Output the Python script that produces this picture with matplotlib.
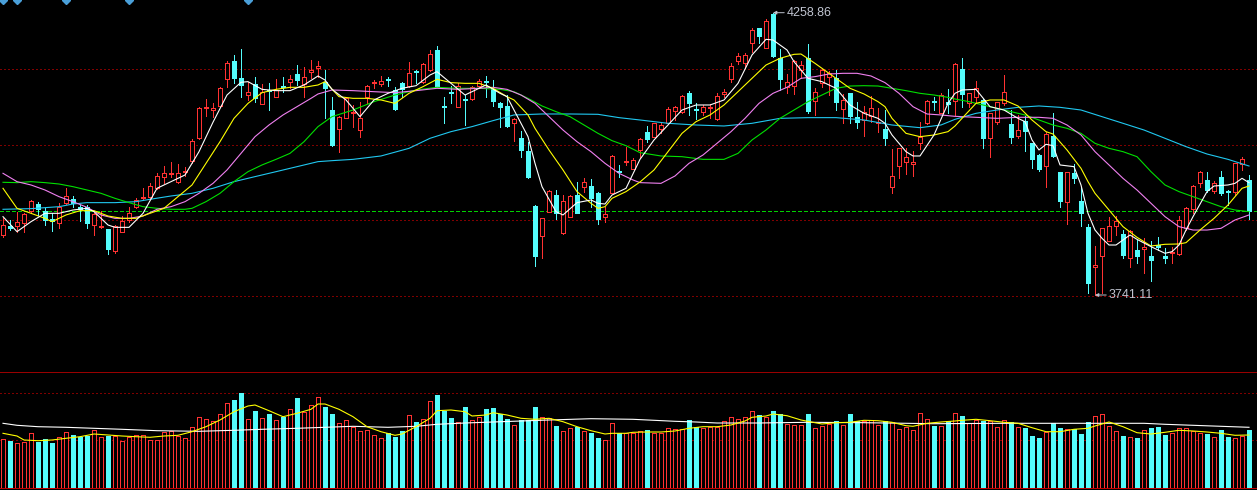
import numpy as np
import matplotlib
matplotlib.use("Agg")
import matplotlib.pyplot as plt

# ---- daily candles (index points) ----
opens = [
    3851.2, 3867.7, 3867.7, 3872.6, 3895.8, 3908.0, 3894.6, 3881.1, 3873.8, 3910.5,
    3916.6, 3902.5, 3903.1, 3869.5, 3865.9, 3861.6, 3822.5, 3857.3, 3878.7, 3901.9,
    3919.0, 3921.5, 3938.0, 3958.2, 3963.1, 3949.0, 3967.3, 3986.9, 4028.5, 4083.5,
    4080.4, 4087.8, 4136.7, 4170.3, 4138.5, 4108.5, 4128.1, 4092.0, 4117.1, 4104.9,
    4124.4, 4132.4, 4146.4, 4128.1, 4150.7, 4158.1, 4132.4, 4080.4, 4045.0, 4066.4,
    4074.3, 4043.7, 4104.9, 4129.9, 4127.5, 4137.3, 4117.1, 4129.3, 4124.4, 4151.9,
    4131.2, 4153.8, 4190.5, 4087.8, 4112.8, 4086.5, 4101.2, 4100.0, 4125.0, 4133.6,
    4118.3, 4092.6, 4087.8, 4056.0, 4028.5, 4005.2, 3904.4, 3850.0, 3894.0, 3924.5,
    3854.2, 3884.8, 3924.5, 3939.8, 3941.0, 3927.6, 3884.8, 3928.8, 3968.6, 3985.7,
    3972.2, 4007.1, 4039.5, 4031.5, 4045.0, 4056.0, 4078.6, 4076.1, 4111.0, 4082.9,
    4076.1, 4084.1, 4063.3, 4109.2, 4137.3, 4170.3, 4166.0, 4203.9, 4230.2, 4194.7,
    4256.5, 4175.2, 4122.0, 4124.4, 4153.8, 4175.2, 4097.5, 4129.3, 4140.3, 4138.5,
    4081.6, 4111.0, 4068.2, 4062.1, 4070.0, 4056.0, 4045.0, 3939.8, 3978.3, 3985.7,
    3980.8, 4019.3, 4056.0, 4096.3, 4075.5, 4094.5, 4096.9, 4155.0, 4092.6, 4104.9,
    4098.8, 4028.5, 4059.0, 4092.6, 4054.1, 4032.7, 4060.3, 4019.3, 3997.9, 3978.3,
    4032.7, 3966.1, 3911.1, 3964.3, 3913.5, 3865.2, 3791.9, 3813.3, 3840.8, 3868.3,
    3853.0, 3809.6, 3823.7, 3824.9, 3812.7, 3832.2, 3812.7, 3817.6, 3815.7, 3863.4,
    3898.3, 3945.9, 3952.1, 3932.5, 3956.9, 3931.9, 3930.7, 3980.8, 3952.1,
]
highs = [
    3881.7, 3878.7, 3894.0, 3890.9, 3915.4, 3911.1, 3900.7, 3890.9, 3909.3, 3936.8,
    3922.7, 3906.2, 3906.2, 3890.9, 3895.2, 3862.8, 3868.9, 3886.6, 3901.9, 3919.6,
    3936.8, 3947.2, 3965.5, 3978.3, 3984.4, 3981.4, 3976.5, 4026.6, 4085.3, 4100.6,
    4092.6, 4122.0, 4170.3, 4181.3, 4191.7, 4132.4, 4140.3, 4127.5, 4129.3, 4136.7,
    4141.6, 4144.0, 4162.3, 4158.7, 4172.1, 4170.9, 4153.8, 4104.9, 4069.4, 4104.9,
    4089.6, 4095.7, 4126.3, 4135.4, 4142.8, 4141.6, 4123.2, 4132.4, 4169.1, 4153.8,
    4166.0, 4190.5, 4198.4, 4104.9, 4124.4, 4129.3, 4107.9, 4124.4, 4136.7, 4142.8,
    4135.4, 4095.7, 4107.9, 4065.1, 4042.5, 4022.3, 3906.2, 3883.0, 3933.7, 3933.7,
    3924.5, 3924.5, 3949.0, 3955.1, 3953.9, 3929.4, 3903.1, 3997.3, 3979.6, 4012.0,
    3991.8, 4028.5, 4051.1, 4057.2, 4059.0, 4085.3, 4087.8, 4107.9, 4115.9, 4092.6,
    4089.6, 4091.4, 4112.2, 4118.3, 4166.0, 4184.3, 4185.6, 4230.2, 4231.4, 4246.7,
    4258.86, 4192.3, 4146.4, 4172.1, 4170.3, 4201.5, 4120.2, 4155.6, 4151.9, 4153.8,
    4109.2, 4112.2, 4095.7, 4087.8, 4106.7, 4083.5, 4080.4, 4008.9, 4011.3, 4010.1,
    4005.2, 4059.0, 4098.8, 4104.9, 4112.2, 4118.3, 4166.0, 4175.2, 4112.2, 4133.6,
    4100.0, 4075.5, 4095.7, 4144.6, 4080.4, 4071.3, 4069.4, 4020.5, 3999.1, 4040.7,
    4075.5, 3967.3, 3967.3, 3981.4, 3939.8, 3870.7, 3831.0, 3864.6, 3883.6, 3886.0,
    3860.3, 3860.3, 3842.0, 3845.1, 3840.8, 3848.1, 3826.7, 3829.8, 3886.0, 3903.1,
    3942.3, 3968.6, 3967.3, 3950.2, 3968.6, 3933.7, 3983.8, 3994.8, 3961.2,
]
lows = [
    3846.9, 3860.3, 3857.3, 3857.3, 3890.9, 3887.9, 3869.5, 3859.1, 3863.4, 3908.0,
    3903.1, 3877.5, 3863.4, 3851.2, 3864.6, 3816.3, 3818.8, 3856.1, 3875.6, 3900.1,
    3915.4, 3918.4, 3934.9, 3945.9, 3958.2, 3947.2, 3959.4, 3982.6, 4026.6, 4070.0,
    4067.0, 4085.3, 4122.0, 4129.3, 4104.9, 4098.8, 4094.5, 4091.4, 4080.4, 4103.6,
    4114.0, 4120.2, 4126.3, 4103.6, 4138.5, 4141.6, 4065.1, 4015.0, 4004.0, 4065.1,
    4049.9, 4031.5, 4092.6, 4120.2, 4124.4, 4125.0, 4080.4, 4104.9, 4123.2, 4129.3,
    4129.3, 4151.9, 4122.0, 4057.2, 4092.6, 4085.3, 4052.9, 4098.8, 4122.0, 4104.9,
    4087.8, 4049.9, 4049.9, 4024.2, 3994.8, 3956.3, 3794.9, 3808.4, 3892.8, 3880.5,
    3853.0, 3883.6, 3890.9, 3930.7, 3903.1, 3871.4, 3875.6, 3927.6, 3958.2, 3979.6,
    3971.6, 3994.8, 4022.3, 4030.3, 4038.9, 4054.8, 4062.1, 4074.3, 4071.3, 4063.3,
    4071.3, 4065.1, 4062.1, 4104.9, 4132.4, 4164.8, 4156.8, 4187.4, 4202.7, 4193.5,
    4178.2, 4117.1, 4111.0, 4109.8, 4138.5, 4075.5, 4071.3, 4122.0, 4107.9, 4080.4,
    4057.2, 4057.2, 4046.8, 4032.7, 4059.0, 4040.7, 4016.2, 3928.8, 3956.3, 3963.1,
    3959.4, 4008.9, 4054.8, 4080.4, 4074.3, 4074.3, 4071.3, 4086.5, 4086.5, 4095.7,
    4010.1, 3993.6, 4054.8, 4089.6, 4020.5, 4028.5, 4005.2, 3973.4, 3969.2, 3939.8,
    3994.8, 3901.9, 3870.7, 3945.9, 3867.7, 3745.4, 3741.11, 3744.2, 3839.6, 3851.2,
    3809.6, 3793.1, 3799.2, 3782.1, 3766.8, 3823.7, 3799.2, 3800.5, 3814.5, 3860.3,
    3890.9, 3939.8, 3930.7, 3927.6, 3924.5, 3906.2, 3924.5, 3970.4, 3880.5,
]
closes = [
    3869.5, 3864.0, 3875.6, 3889.1, 3913.5, 3899.5, 3878.7, 3876.9, 3901.9, 3923.3,
    3909.3, 3898.9, 3873.8, 3889.1, 3867.7, 3826.1, 3867.7, 3876.3, 3890.9, 3915.4,
    3921.5, 3941.0, 3959.4, 3964.3, 3964.9, 3964.3, 3969.2, 4023.0, 4083.5, 4085.3,
    4083.5, 4120.2, 4166.6, 4139.1, 4126.3, 4112.8, 4103.0, 4114.0, 4115.3, 4117.1,
    4122.0, 4136.7, 4135.4, 4140.3, 4153.2, 4161.1, 4120.2, 4016.2, 4068.2, 4101.8,
    4077.4, 4066.4, 4124.4, 4131.8, 4133.6, 4136.1, 4082.3, 4118.3, 4147.7, 4150.1,
    4164.2, 4183.1, 4124.4, 4085.3, 4111.0, 4124.4, 4098.8, 4123.2, 4133.6, 4131.2,
    4097.5, 4086.5, 4051.1, 4063.9, 4007.1, 3958.2, 3812.7, 3881.7, 3931.9, 3890.9,
    3913.5, 3922.7, 3892.1, 3947.8, 3918.4, 3880.5, 3889.1, 3996.1, 3966.1, 3987.5,
    3988.7, 4026.6, 4027.2, 4056.0, 4052.9, 4081.6, 4085.3, 4106.7, 4093.9, 4080.4,
    4086.5, 4085.9, 4106.7, 4112.8, 4161.1, 4180.1, 4181.3, 4227.1, 4216.7, 4244.3,
    4180.1, 4137.3, 4131.2, 4170.3, 4163.0, 4079.2, 4112.8, 4153.8, 4147.7, 4095.7,
    4098.8, 4069.4, 4059.0, 4076.1, 4083.5, 4059.0, 4029.7, 3959.4, 4010.1, 3993.6,
    3985.7, 4031.5, 4096.9, 4094.5, 4107.9, 4091.4, 4164.2, 4109.2, 4111.0, 4120.2,
    4028.5, 4074.3, 4094.5, 4112.8, 4030.3, 4043.7, 4041.9, 3990.6, 3972.2, 4036.4,
    3996.7, 3914.2, 3966.1, 3956.3, 3892.1, 3762.5, 3796.2, 3863.4, 3867.7, 3877.5,
    3814.5, 3858.5, 3812.7, 3829.8, 3805.3, 3829.8, 3809.6, 3820.6, 3878.7, 3900.1,
    3941.0, 3966.1, 3933.7, 3945.9, 3927.6, 3929.4, 3982.6, 3990.0, 3895.8,
]
volumes = [
    48.7, 47.0, 45.0, 46.0, 54.7, 46.0, 48.7, 45.0, 50.7, 55.7,
    53.0, 50.7, 52.3, 57.7, 50.7, 52.3, 52.0, 47.0, 51.3, 52.7,
    52.7, 48.0, 48.0, 55.7, 57.0, 52.0, 50.0, 60.7, 70.7, 68.7,
    66.7, 74.0, 84.7, 87.7, 95.0, 68.7, 77.0, 69.7, 74.0, 68.0,
    71.3, 78.7, 90.0, 76.3, 82.7, 90.7, 81.0, 74.0, 64.7, 67.7,
    60.7, 56.7, 57.7, 52.7, 49.7, 54.7, 51.0, 57.0, 72.7, 66.0,
    68.7, 86.7, 93.0, 77.3, 70.0, 65.7, 81.0, 67.7, 71.3, 78.7,
    80.0, 74.3, 69.0, 62.7, 67.7, 67.7, 81.0, 70.7, 70.3, 62.0,
    57.0, 59.7, 61.3, 57.0, 54.7, 50.0, 48.0, 64.7, 54.7, 54.7,
    55.3, 57.3, 57.7, 55.3, 55.3, 59.7, 58.7, 58.7, 68.0, 60.7,
    59.7, 61.0, 61.3, 66.7, 70.7, 68.7, 70.7, 76.7, 73.0, 71.3,
    77.0, 74.0, 63.7, 62.7, 62.7, 74.0, 59.7, 62.0, 64.3, 67.0,
    62.7, 74.0, 67.3, 67.0, 67.7, 62.7, 66.7, 66.3, 58.7, 60.7,
    58.0, 74.7, 68.7, 62.0, 61.7, 67.0, 74.7, 72.0, 64.7, 68.0,
    67.0, 67.0, 61.0, 67.7, 65.7, 60.7, 60.0, 52.0, 50.0, 55.7,
    64.7, 60.0, 58.7, 58.7, 54.0, 66.0, 72.0, 74.0, 62.0, 57.0,
    52.0, 51.0, 50.0, 58.0, 60.0, 61.0, 53.0, 55.0, 60.0, 60.0,
    57.0, 55.0, 54.0, 51.0, 58.0, 51.0, 50.0, 52.0, 58.0,
]

# ---- moving average lines, read at sample bars ----
ma5_idx = [0, 2, 4, 6, 8, 10, 12, 13, 15, 16, 18, 20, 22, 24, 26, 28, 30, 32, 34, 35,
           37, 39, 41, 43, 45, 46, 47, 49, 51, 53, 55, 57, 59, 61, 62, 64, 66, 67, 69, 71,
           72, 74, 75, 76, 77, 79, 80, 82, 84, 85, 86, 87, 89, 91, 93, 95, 97, 99, 101, 103,
           105, 107, 109, 110, 112, 113, 115, 117, 119, 121, 123, 125, 126, 127, 129, 130, 131, 133, 135, 136,
           137, 139, 141, 143, 145, 146, 147, 148, 149, 150, 151, 153, 154, 155, 156, 157, 158, 159, 160, 161,
           162, 164, 166, 167, 168, 169, 170, 172, 173, 175, 176, 177, 178]
ma5_val = [3884.8, 3857.3, 3875.6, 3890.9, 3890.9, 3897.0, 3900.1, 3894.0, 3869.5, 3865.2,
           3865.2, 3890.9, 3936.8, 3949.0, 3961.2, 4004.0, 4058.0, 4107.9, 4131.2, 4132.4,
           4118.3, 4115.9, 4115.9, 4126.3, 4142.8, 4135.4, 4118.3, 4098.8, 4068.2, 4098.8,
           4111.0, 4120.2, 4125.0, 4144.6, 4150.7, 4129.3, 4107.9, 4114.0, 4126.3, 4111.0,
           4104.9, 4056.0, 4031.5, 3982.6, 3939.8, 3894.0, 3887.9, 3910.5, 3915.4, 3909.3,
           3908.0, 3924.5, 3936.8, 3989.9, 4025.4, 4052.9, 4080.4, 4089.6, 4089.6, 4098.8,
           4129.3, 4181.3, 4210.0, 4208.8, 4190.5, 4169.1, 4138.5, 4132.4, 4120.2, 4089.6,
           4074.3, 4065.1, 4056.0, 4034.6, 4004.0, 3996.1, 3996.1, 4034.6, 4092.6, 4111.0,
           4117.1, 4118.3, 4086.5, 4080.4, 4065.1, 4059.0, 4025.4, 4007.1, 4017.5, 4015.0,
           3979.6, 3976.5, 3942.9, 3890.9, 3860.3, 3845.1, 3832.8, 3832.8, 3842.0, 3851.2,
           3843.2, 3829.8, 3817.6, 3820.6, 3832.8, 3860.3, 3884.8, 3930.7, 3941.0, 3942.9,
           3945.9, 3955.1, 3947.2]

ma10_idx = [0, 2, 4, 6, 7, 9, 11, 13, 15, 17, 19, 21, 23, 25, 27, 29, 31, 33, 35, 37,
            39, 41, 43, 45, 46, 48, 50, 52, 54, 56, 58, 60, 62, 64, 66, 68, 70, 72, 73, 75,
            76, 78, 80, 82, 84, 85, 86, 87, 89, 91, 93, 95, 97, 99, 101, 103, 105, 107, 109, 111,
            113, 114, 116, 117, 119, 121, 123, 125, 126, 127, 129, 131, 133, 135, 136, 137, 139, 141, 143, 145,
            147, 149, 150, 152, 154, 155, 156, 158, 160, 162, 164, 166, 168, 169, 171, 173, 175, 177, 178]
ma10_val = [3936.8, 3900.1, 3890.9, 3881.7, 3875.6, 3887.9, 3895.8, 3895.8, 3886.0, 3881.7,
            3881.7, 3890.9, 3900.1, 3921.5, 3942.9, 3982.6, 4022.3, 4065.1, 4092.6, 4112.2,
            4118.3, 4122.0, 4122.0, 4126.3, 4132.4, 4104.9, 4101.8, 4101.8, 4098.8, 4092.6,
            4111.0, 4123.2, 4136.7, 4130.6, 4129.3, 4129.3, 4120.2, 4104.9, 4098.8, 4071.3,
            4046.8, 4007.1, 3970.4, 3930.7, 3909.3, 3900.1, 3903.1, 3918.4, 3930.7, 3948.4,
            3970.4, 4004.0, 4037.6, 4059.0, 4071.3, 4089.6, 4114.0, 4138.5, 4162.9, 4175.2,
            4182.5, 4183.1, 4166.0, 4156.8, 4138.5, 4120.2, 4109.8, 4095.7, 4086.5, 4065.1,
            4037.6, 4031.5, 4034.6, 4040.7, 4051.1, 4065.1, 4092.6, 4098.8, 4098.8, 4087.8,
            4062.1, 4040.7, 4036.4, 4007.1, 3973.4, 3949.0, 3927.6, 3897.0, 3866.5, 3846.9,
            3831.0, 3834.1, 3834.7, 3837.1, 3860.3, 3881.7, 3906.2, 3936.8, 3941.0]

ma20_idx = [0, 2, 4, 6, 8, 10, 12, 14, 16, 18, 20, 22, 24, 26, 28, 30, 32, 34, 36, 38,
            40, 42, 44, 45, 47, 50, 53, 56, 59, 62, 65, 68, 70, 72, 74, 76, 78, 80, 82, 84,
            86, 88, 90, 91, 94, 96, 98, 100, 102, 104, 106, 108, 110, 112, 114, 116, 118, 120, 122, 124,
            126, 128, 130, 132, 134, 136, 139, 142, 145, 148, 150, 152, 154, 156, 158, 160, 162, 164, 166, 168,
            170, 172, 174, 176, 178]
ma20_val = [3964.3, 3949.0, 3942.9, 3933.7, 3921.5, 3912.3, 3901.9, 3887.9, 3881.7, 3881.7,
            3886.0, 3898.3, 3903.1, 3912.3, 3927.6, 3945.9, 3970.4, 4000.9, 4031.5, 4052.9,
            4071.3, 4086.5, 4101.8, 4109.8, 4117.1, 4115.9, 4114.0, 4112.2, 4115.9, 4120.2,
            4118.3, 4120.2, 4122.0, 4118.3, 4107.9, 4092.6, 4068.2, 4043.7, 4022.3, 4004.0,
            3982.6, 3964.3, 3952.1, 3947.2, 3945.9, 3959.4, 3982.6, 3997.9, 4019.3, 4040.7,
            4065.1, 4092.6, 4111.0, 4122.0, 4138.5, 4141.6, 4146.4, 4147.7, 4147.7, 4142.8,
            4130.6, 4111.0, 4086.5, 4073.1, 4071.3, 4068.8, 4067.0, 4065.1, 4067.0, 4067.0,
            4065.1, 4052.9, 4034.6, 4004.0, 3979.6, 3955.1, 3933.7, 3909.3, 3884.8, 3866.5,
            3860.3, 3860.3, 3863.4, 3878.7, 3887.9]

ma30_idx = [0, 2, 4, 6, 8, 10, 12, 14, 16, 18, 20, 22, 24, 26, 27, 29, 31, 33, 35, 37,
            39, 41, 43, 45, 47, 50, 53, 56, 59, 62, 65, 68, 71, 73, 75, 77, 79, 81, 83, 85,
            87, 89, 91, 94, 97, 100, 103, 105, 107, 109, 111, 113, 115, 117, 119, 121, 123, 125, 127, 129,
            131, 133, 135, 136, 138, 140, 142, 144, 146, 148, 150, 152, 154, 156, 158, 160, 162, 164, 166, 168,
            170, 172, 174, 176, 178]
ma30_val = [3947.8, 3947.2, 3949.0, 3947.2, 3944.7, 3939.8, 3933.7, 3927.6, 3918.4, 3910.5,
            3903.1, 3900.1, 3898.3, 3898.3, 3900.1, 3912.3, 3927.6, 3949.0, 3967.3, 3979.6,
            3989.9, 4000.9, 4022.3, 4049.9, 4068.2, 4080.4, 4095.7, 4107.9, 4117.1, 4122.0,
            4120.2, 4120.2, 4118.3, 4114.0, 4101.8, 4087.8, 4077.4, 4068.2, 4052.9, 4037.6,
            4024.2, 4015.0, 4002.2, 3996.1, 3994.8, 3989.9, 3989.9, 4000.9, 4025.4, 4043.7,
            4065.1, 4080.4, 4095.7, 4107.9, 4120.2, 4124.4, 4125.0, 4124.4, 4120.2, 4115.9,
            4111.0, 4107.9, 4103.6, 4100.6, 4095.7, 4089.6, 4083.5, 4077.4, 4071.3, 4062.1,
            4052.9, 4046.8, 4037.6, 4019.3, 4010.1, 4004.0, 3994.8, 3967.3, 3942.9, 3930.7,
            3921.5, 3912.3, 3903.1, 3897.0, 3894.0]

ma60_idx = [0, 4, 8, 10, 12, 16, 19, 21, 24, 27, 30, 33, 36, 39, 42, 45, 47, 50, 54, 58,
            61, 64, 67, 70, 73, 77, 81, 85, 88, 91, 95, 99, 103, 107, 111, 115, 119, 123, 127, 131,
            134, 136, 139, 142, 145, 148, 151, 154, 157, 160, 163, 166, 169, 172, 175, 178]
ma60_val = [3898.3, 3899.5, 3903.1, 3908.0, 3910.5, 3910.5, 3912.3, 3916.6, 3922.7, 3927.6,
            3936.8, 3949.0, 3958.2, 3967.3, 3976.5, 3985.7, 3987.5, 3989.9, 3996.1, 4010.1,
            4028.5, 4040.7, 4049.9, 4060.9, 4071.3, 4073.1, 4073.1, 4072.5, 4066.4, 4062.1,
            4056.0, 4052.9, 4051.1, 4056.0, 4065.1, 4066.4, 4066.4, 4062.1, 4052.9, 4048.0,
            4052.9, 4063.3, 4074.3, 4080.4, 4085.3, 4087.8, 4085.3, 4080.4, 4068.2, 4056.0,
            4043.7, 4028.5, 4013.2, 3999.7, 3989.9, 3977.7]

vol_ma5_idx = [0, 2, 3, 5, 7, 9, 11, 13, 15, 17, 19, 21, 23, 25, 27, 29, 31, 33, 35, 36,
               38, 40, 42, 44, 45, 46, 48, 50, 52, 54, 56, 57, 59, 61, 62, 64, 66, 67, 69, 70,
               72, 74, 76, 78, 80, 82, 84, 86, 87, 89, 90, 92, 94, 96, 98, 100, 102, 104, 106, 107,
               109, 110, 112, 114, 116, 117, 119, 121, 123, 125, 127, 129, 130, 132, 134, 136, 137, 139, 141, 143,
               145, 147, 149, 151, 153, 155, 156, 158, 160, 162, 164, 166, 168, 170, 172, 174, 176, 178]
vol_ma5_val = [54.7, 52.0, 48.0, 47.3, 48.0, 49.7, 51.3, 54.0, 53.0, 52.0,
               51.3, 50.7, 52.0, 52.7, 56.3, 61.3, 68.0, 76.3, 82.0, 83.0,
               77.3, 71.3, 74.7, 78.7, 84.0, 84.0, 78.7, 71.3, 61.3, 56.3,
               52.7, 54.0, 61.3, 69.7, 77.3, 78.0, 76.3, 72.0, 73.0, 75.3,
               73.0, 69.7, 68.7, 69.7, 66.3, 61.3, 57.3, 54.0, 54.7, 54.7,
               55.7, 56.0, 56.0, 57.0, 59.7, 61.3, 61.3, 63.0, 67.0, 70.7,
               72.0, 74.0, 72.3, 68.0, 65.3, 64.0, 65.3, 65.7, 67.7, 67.3,
               65.7, 62.3, 61.7, 64.7, 66.0, 67.0, 67.7, 68.7, 67.3, 65.7,
               64.7, 60.3, 56.3, 56.3, 58.7, 59.7, 62.0, 66.0, 61.3, 55.3,
               54.0, 55.7, 57.7, 57.0, 56.0, 54.7, 52.7, 53.0]

vol_ma_long_idx = [0, 2, 5, 9, 13, 17, 22, 28, 33, 37, 42, 46, 50, 55, 59, 62, 66, 70, 74, 78,
                   84, 90, 93, 96, 99, 102, 108, 115, 123, 133, 143, 155, 163, 166, 170, 174, 178]
vol_ma_long_val = [64.7, 62.7, 61.3, 60.7, 59.7, 58.7, 57.3, 56.7, 57.7, 58.7,
                   59.7, 60.7, 61.7, 60.7, 61.7, 63.7, 65.0, 66.0, 67.0, 68.0,
                   69.3, 68.7, 67.7, 66.7, 66.0, 65.0, 65.0, 65.7, 65.3, 64.3,
                   64.7, 64.7, 64.7, 63.7, 62.7, 61.7, 60.7]

info_bars = [0, 2, 9, 18, 35]   # info markers along the top edge
ref_price = 3894.6              # green dashed reference line

# ---- style / layout ----
BG = "black"
UP = "#FF3232"
DOWN = "#54FCFC"
GRID = "#800000"
W, H = 1257, 490
BAR_PX = 7.0                 # pixels per bar
TOP_PRICE = 4282.15          # price at the top pixel row
PRICE_PER_PX = 1.834
LW = 0.72                    # one pixel at 100 dpi


def price_at(px):
    return TOP_PRICE - px * PRICE_PER_PX


fig = plt.figure(figsize=(W / 100, H / 100), dpi=100, facecolor=BG)


def panel(top_px, bottom_px):
    a = fig.add_axes([0, 1 - bottom_px / H, 1, (bottom_px - top_px) / H])
    a.set_facecolor(BG)
    a.axis("off")
    x0 = -3 / BAR_PX
    a.set_xlim(x0, x0 + W / BAR_PX)
    return a


o, h, l, c = (np.array(v) for v in (opens, highs, lows, closes))
x = np.arange(len(c))
up = c >= o
col = np.where(up, UP, DOWN)

# ---- price panel ----
ax = panel(0, 365)
ax.set_ylim(price_at(365), TOP_PRICE)

for px in (69.3, 145.3, 220.3, 296):
    ax.axhline(price_at(px), color=GRID, lw=LW, ls=(0, (1.4, 2.8)), zorder=0,
               antialiased=False)
ax.axhline(ref_price, color="#00D000", lw=LW, ls=(0, (4, 2.5)), zorder=1,
           antialiased=False)

top = np.maximum(o, c)
bot = np.minimum(o, c)
body = np.maximum(top - bot, PRICE_PER_PX * 0.8)
ax.vlines(x, top, h, colors=col, lw=LW, zorder=2, antialiased=False)
ax.vlines(x, l, bot, colors=col, lw=LW, zorder=2, antialiased=False)
ax.bar(x[up], body[up], bottom=bot[up], width=0.7, facecolor=BG,
       edgecolor=UP, linewidth=LW, zorder=2, antialiased=False)
ax.bar(x[~up], body[~up], bottom=bot[~up], width=0.7, facecolor=DOWN,
       edgecolor=DOWN, linewidth=LW, zorder=2, antialiased=False)

for xs, ys, colr in ((ma60_idx, ma60_val, "#20C8F0"),
                     (ma30_idx, ma30_val, "#00E000"),
                     (ma20_idx, ma20_val, "#F080F0"),
                     (ma10_idx, ma10_val, "#FFFF00"),
                     (ma5_idx, ma5_val, "white")):
    ax.plot(xs, ys, color=colr, lw=0.8, zorder=3)

ax.plot(info_bars, [TOP_PRICE] * len(info_bars), ls="none", marker="D",
        ms=4.5, color="#4A9FD8", clip_on=True, zorder=4)

imax, imin = int(np.argmax(h)), int(np.argmin(l))
for i, val in ((imax, h[imax]), (imin, l[imin])):
    ax.annotate(f"{val:.2f}", xy=(i, val), xytext=(14, 0), textcoords="offset pixels",
                ha="left", va="center", color="#C0C4D0", fontsize=9,
                family=["Liberation Sans", "DejaVu Sans"],
                arrowprops=dict(arrowstyle="-|>", color="#C0C4D0", lw=0.7,
                                mutation_scale=5, shrinkA=0, shrinkB=0))

# ---- volume panel (1 volume unit = 1 pixel row) ----
vx = panel(365, 490)
vx.set_ylim(-2, 123)
vx.axhline(116, color="#990000", lw=LW, zorder=1, antialiased=False)
vx.axhline(94.7, color=GRID, lw=LW, ls=(0, (1.4, 2.8)), zorder=0, antialiased=False)
vx.axhline(48, color=GRID, lw=LW, ls=(0, (1.4, 2.8)), zorder=0, antialiased=False)

v = np.array(volumes)
vx.bar(x[up], v[up], width=0.7, facecolor=BG, edgecolor=UP, linewidth=LW,
       zorder=2, antialiased=False)
vx.bar(x[~up], v[~up], width=0.7, facecolor=DOWN, edgecolor=DOWN, linewidth=LW,
       zorder=2, antialiased=False)
vx.axhline(0, color="#C00000", lw=LW, zorder=3, antialiased=False)

vx.plot(vol_ma_long_idx, vol_ma_long_val, color="white", lw=0.8, zorder=4)
vx.plot(vol_ma5_idx, vol_ma5_val, color="#FFFF00", lw=0.8, zorder=4)

fig.savefig("out.png", dpi=100, facecolor=BG)
